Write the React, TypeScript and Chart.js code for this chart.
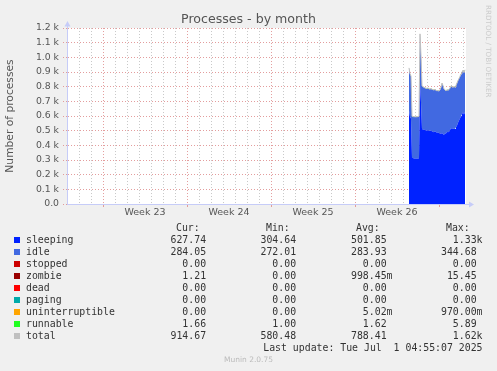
import React, { useEffect, useRef } from 'react';
import { Chart, registerables } from 'chart.js';

Chart.register(...registerables);

// ---- time axis (days on a linear axis, 2-hour samples) ----
const startDay = 28.5;
const stepHours = 2;
const xMaxDay = 33.25;
const weekLabels = ['Week 23', 'Week 24', 'Week 25', 'Week 26'];
const weekBoundaryDays = [3, 10, 17, 24, 31];

// ---- series values (one per 2-hour sample) ----
const totalValues = [
  928, 888, 872, 598, 596, 595, 595, 594, 595, 596, 598, 1160, 1010, 805, 800, 796, 792, 790, 788,
  792, 786, 784, 788, 782, 780, 778, 782, 776, 772, 775, 770, 778, 795, 825, 808, 785, 778, 772,
  780, 776, 782, 790, 806, 800, 796, 802, 798, 810, 825, 842, 856, 870, 888, 900, 912, 896, 915,
];
const sleepingValues = [
  637, 595, 583, 314, 313, 310, 311, 311, 311, 311, 312, 812, 694, 510, 509, 507, 505, 502, 502,
  503, 499, 499, 500, 496, 493, 489, 496, 491, 485, 489, 482, 480, 478, 485, 475, 472, 480, 481,
  492, 489, 493, 504, 518, 513, 511, 514, 512, 523, 536, 554, 570, 583, 599, 612, 625, 610, 628,
];
const idleValues = [
  288, 290, 286, 283, 282, 284, 283, 282, 283, 284, 285, 340, 312, 292, 288, 286, 284, 285, 283,
  286, 284, 282, 285, 283, 284, 286, 283, 282, 284, 283, 285, 295, 314, 337, 330, 310, 295, 288,
  285, 284, 286, 283, 285, 284, 282, 285, 283, 284, 286, 285, 283, 284, 286, 285, 284, 283, 284,
];
const zombieValues = [
  1, 1, 1, 0, 0, 0, 0, 0, 0, 0, 0, 2, 2, 1, 1, 1, 1, 1, 1,
  1, 1, 1, 1, 1, 1, 1, 1, 1, 1, 1, 1, 1, 1, 1, 1, 1, 1, 1,
  1, 1, 1, 1, 1, 1, 1, 1, 1, 1, 1, 1, 1, 1, 1, 1, 1, 1, 1,
];
const runnableValues = [
  2, 2, 2, 1, 1, 1, 1, 1, 1, 1, 1, 6, 2, 2, 2, 2, 2, 2, 2,
  2, 2, 2, 2, 2, 2, 2, 2, 2, 2, 2, 2, 2, 2, 2, 2, 2, 2, 2,
  2, 2, 2, 2, 2, 2, 2, 2, 2, 2, 2, 2, 2, 2, 2, 2, 2, 2, 2,
];

// ---- legend table ----
const legendNames = ['sleeping', 'idle', 'stopped', 'zombie', 'dead', 'paging', 'uninterruptible', 'runnable', 'total'];
const legendColors = ['#0022ff', '#4169e1', '#cc0000', '#990000', '#ff0000', '#00aaaa', '#ffa500', '#22ff22', '#c0c0c0'];
const curValues = ['627.74', '284.05', '0.00', '1.21', '0.00', '0.00', '0.00', '1.66', '914.67'];
const minValues = ['304.64', '272.01', '0.00', '0.00', '0.00', '0.00', '0.00', '1.00', '580.48'];
const avgValues = ['501.85', '283.93', '0.00', '998.45m', '0.00', '0.00', '5.02m', '1.62', '788.41'];
const maxValues = ['1.33k', '344.68', '0.00', '15.45', '0.00', '0.00', '970.00m', '5.89', '1.62k'];
const columnHeaders = ['Cur:', 'Min:', 'Avg:', 'Max:'];
const lastUpdateText = 'Last update: Tue Jul  1 04:55:07 2025';
const footerText = 'Munin 2.0.75';
const titleText = 'Processes - by month';
const yAxisTitle = 'Number of processes';
const watermarkText = 'RRDTOOL / TOBI OETIKER';

const AXIS_COLOR = 'rgb(198,204,248)';
const RED_GRID = 'rgba(222,140,140,0.85)';
const GRAY_GRID = 'rgba(190,190,190,0.85)';
const TEXT_COLOR = '#555';

const toPoints = (arr: number[]) =>
  arr.map((v, i) => ({ x: startDay + (i * stepHours) / 24, y: v }));

const decorPlugin = {
  id: 'decor',
  beforeDraw(chart: any) {
    const { ctx, chartArea: a } = chart;
    ctx.save();
    ctx.fillStyle = '#f0f0f0';
    ctx.fillRect(0, 0, chart.width, chart.height);
    ctx.fillStyle = '#ffffff';
    ctx.fillRect(a.left, a.top, a.right - a.left, a.bottom - a.top);
    ctx.restore();
  },
  afterDraw(chart: any) {
    const { ctx, chartArea: a } = chart;
    ctx.save();
    ctx.strokeStyle = AXIS_COLOR;
    ctx.fillStyle = AXIS_COLOR;
    ctx.lineWidth = 1;
    const lx = Math.round(a.left) + 0.5;
    const by = Math.round(a.bottom) + 0.5;
    // vertical axis extension + arrow
    ctx.beginPath();
    ctx.moveTo(lx, a.top);
    ctx.lineTo(lx, a.top - 4);
    ctx.stroke();
    ctx.beginPath();
    ctx.moveTo(lx - 3, a.top - 1.5);
    ctx.lineTo(lx + 3, a.top - 1.5);
    ctx.lineTo(lx, a.top - 7);
    ctx.closePath();
    ctx.fill();
    // horizontal axis extension + arrow
    ctx.beginPath();
    ctx.moveTo(a.right, by);
    ctx.lineTo(a.right + 4, by);
    ctx.stroke();
    ctx.beginPath();
    ctx.moveTo(a.right + 3, by - 3);
    ctx.lineTo(a.right + 3, by + 3);
    ctx.lineTo(a.right + 8, by);
    ctx.closePath();
    ctx.fill();
    // watermark
    ctx.translate(487.5, 5);
    ctx.rotate(Math.PI / 2);
    ctx.fillStyle = '#cccccc';
    ctx.font = '7.2px "DejaVu Sans"';
    ctx.textAlign = 'left';
    ctx.textBaseline = 'middle';
    ctx.fillText(watermarkText, 0, 0);
    ctx.restore();
  },
};

export default function App() {
  const canvasRef = useRef<HTMLCanvasElement | null>(null);

  useEffect(() => {
    document.body.style.margin = '0';
    const canvas = canvasRef.current;
    if (!canvas) return;

    const areaDs = (label: string, data: number[], color: string, fill: any) => ({
      label,
      data: toPoints(data),
      stack: 'procs',
      fill,
      backgroundColor: color,
      borderColor: 'rgba(0,0,0,0)',
      borderWidth: 0,
      pointRadius: 0,
      tension: 0,
    });

    const chart = new Chart(canvas, {
      type: 'line',
      data: {
        datasets: [
          areaDs('sleeping', sleepingValues, legendColors[0], 'origin'),
          areaDs('idle', idleValues, legendColors[1], '-1'),
          areaDs('zombie', zombieValues, legendColors[3], '-1'),
          areaDs('runnable', runnableValues, legendColors[7], '-1'),
          {
            label: 'total',
            data: toPoints(totalValues),
            stack: 'total',
            fill: false,
            borderColor: legendColors[8],
            borderWidth: 1,
            pointRadius: 0,
            tension: 0,
            order: -1,
          },
        ] as any,
      },
      options: {
        animation: false,
        responsive: false,
        devicePixelRatio: 1,
        layout: { padding: { left: 0, right: 0, top: 0, bottom: 147 } },
        plugins: {
          legend: { display: false },
          tooltip: { enabled: false },
          title: {
            display: true,
            text: titleText,
            color: TEXT_COLOR,
            font: { family: 'DejaVu Sans', size: 12.6, weight: 'normal' },
            padding: { top: 11.7, bottom: 1.2 },
          },
        },
        scales: {
          x: {
            type: 'linear',
            min: 0,
            max: xMaxDay,
            z: 1,
            afterBuildTicks: (scale: any) => {
              const t: any[] = [];
              for (let d = 0; d <= Math.floor(xMaxDay); d += 0.5) t.push({ value: d });
              scale.ticks = t;
            },
            afterFit: (scale: any) => {
              scale.height = 20;
            },
            grid: {
              color: (c: any) => {
                const v = c.tick ? c.tick.value : undefined;
                if (v === undefined) return 'rgba(0,0,0,0)';
                if (weekBoundaryDays.includes(v)) return RED_GRID;
                if (Number.isInteger(v)) return GRAY_GRID;
                return 'rgba(0,0,0,0)';
              },
              tickColor: (c: any) => {
                const v = c.tick ? c.tick.value : undefined;
                return v !== undefined && weekBoundaryDays.includes(v) ? RED_GRID : 'rgba(0,0,0,0)';
              },
              tickLength: 3,
              tickBorderDash: [],
              lineWidth: 1,
            },
            border: { display: true, color: AXIS_COLOR, width: 1, dash: [1, 2] },
            ticks: {
              autoSkip: false,
              maxRotation: 0,
              minRotation: 0,
              padding: 0,
              color: TEXT_COLOR,
              font: { family: 'DejaVu Sans', size: 9.5 },
              callback: (value: any) => {
                const idx = weekBoundaryDays.findIndex((b) => b + 3.5 === value);
                return idx >= 0 && idx < weekLabels.length ? weekLabels[idx] : '';
              },
            },
          },
          y: {
            stacked: true,
            min: 0,
            max: 1200,
            z: 1,
            afterFit: (scale: any) => {
              scale.width = 67;
            },
            ticks: {
              stepSize: 100,
              autoSkip: false,
              padding: 4,
              color: TEXT_COLOR,
              font: { family: 'DejaVu Sans', size: 9.3 },
              callback: (v: any) => (v === 0 ? '0.0' : (v / 1000).toFixed(1) + ' k'),
            },
            grid: {
              color: RED_GRID,
              tickColor: RED_GRID,
              tickLength: 4,
              tickBorderDash: [1, 2],
              lineWidth: 1,
            },
            border: { display: true, color: AXIS_COLOR, width: 1, dash: [1, 2] },
            title: {
              display: true,
              text: yAxisTitle,
              color: TEXT_COLOR,
              font: { family: 'DejaVu Sans', size: 10.7 },
              padding: { top: 3.4, bottom: 0 },
            },
          },
          yr: {
            position: 'right',
            display: true,
            grid: { display: false, drawTicks: false },
            ticks: { display: false },
            border: { display: false },
            afterFit: (scale: any) => {
              scale.width = 31;
            },
          },
        },
      } as any,
      plugins: [decorPlugin],
    });

    return () => chart.destroy();
  }, []);

  const mono: React.CSSProperties = {
    position: 'absolute',
    fontFamily: '"DejaVu Sans Mono", monospace',
    fontSize: '9.85px',
    lineHeight: '12px',
    color: '#333',
    whiteSpace: 'pre',
  };
  const headerLefts = [176, 266, 356, 446];
  const colEdges = [212, 302, 392.5, 482.5];
  const rowCenter = (k: number) => 239.5 + 12 * k;
  const padVal = (s: string) => (/[0-9]$/.test(s) ? s + ' ' : s);

  return (
    <div style={{ position: 'relative', width: 497, height: 371, background: '#f0f0f0', overflow: 'hidden' }}>
      <canvas ref={canvasRef} width={497} height={371} style={{ display: 'block', position: 'absolute', left: 0, top: 0 }} />
      {columnHeaders.map((h, i) => (
        <div key={'h' + i} style={{ ...mono, left: headerLefts[i], top: 227.5 - 6 }}>
          {h}
        </div>
      ))}
      {legendNames.map((name, k) => {
        const cy = rowCenter(k);
        const cols = [curValues[k], minValues[k], avgValues[k], maxValues[k]];
        return (
          <React.Fragment key={name}>
            <div style={{ position: 'absolute', left: 14, top: cy - 3, width: 6, height: 6, background: legendColors[k] }} />
            <div style={{ ...mono, left: 26, top: cy - 6 }}>{name}</div>
            {cols.map((v, j) => (
              <div key={j} style={{ ...mono, right: 497 - colEdges[j], top: cy - 6, textAlign: 'right' }}>
                {padVal(v)}
              </div>
            ))}
          </React.Fragment>
        );
      })}
      <div style={{ ...mono, right: 497 - 482.5, top: 347.5 - 6, textAlign: 'right' }}>{lastUpdateText}</div>
      <div
        style={{
          position: 'absolute',
          left: 0,
          width: 497,
          top: 360 - 6,
          lineHeight: '12px',
          textAlign: 'center',
          fontFamily: '"DejaVu Sans", sans-serif',
          fontSize: '7.5px',
          color: '#bbbbbb',
        }}
      >
        {footerText}
      </div>
    </div>
  );
}
